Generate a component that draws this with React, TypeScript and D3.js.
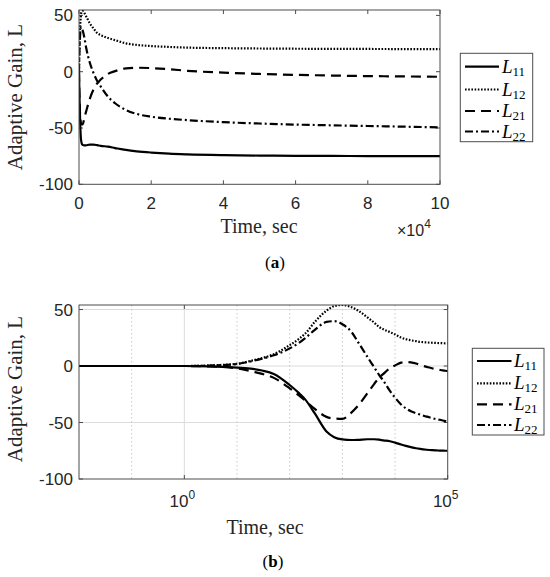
import React from "react";
import * as d3 from "d3";

const times = [0.01, 0.1, 1, 3, 10, 20, 30, 50, 100, 150, 200, 300, 500, 700, 1000, 1500, 2000, 3000, 4000, 5000, 6000, 8000, 10000, 13000, 16000, 20000, 25000, 30000, 40000, 50000, 60000, 70000, 80000, 90000, 100000];
const L11 = [0, 0, 0, -0.3, -1.5, -2.6, -4, -7, -16.8, -24, -30, -42, -58, -63, -65, -65.5, -65.3, -64.8, -64.8, -65.2, -65.8, -66.6, -67.8, -69.5, -70.7, -71.8, -72.8, -73.4, -74.1, -74.5, -74.7, -74.8, -74.9, -75, -75];
const L12 = [0, 0, 0, 0.5, 2, 5, 7, 10.5, 18.5, 24, 29, 39, 49, 53, 54, 52, 49, 43, 38.5, 34.5, 32.5, 30, 28, 25.2, 23.8, 22.8, 22, 21.4, 20.9, 20.6, 20.4, 20.3, 20.2, 20.1, 20];
const L21 = [0, 0, 0, -0.4, -2, -5, -7, -10.5, -19.7, -26, -31, -38, -45, -46.5, -46.8, -41, -35, -24, -16, -10.5, -7, -2, 0.5, 3, 3.5, 3.2, 2.2, 0.8, -0.8, -2, -2.8, -3.4, -3.9, -4.2, -4.5];
const L22 = [0, 0, 0, 0.4, 1.8, 4.5, 6.5, 9.5, 15.6, 20.5, 25, 32, 39, 39.7, 37, 30, 21, 8, -1, -8, -13, -22, -28, -34, -37.5, -40, -41.8, -43, -44.8, -46, -47, -47.6, -48.2, -48.8, -49.4];

const seriesNames = ["11", "12", "21", "22"];
const seriesData = [L11, L12, L21, L22];
const dashes = ["none", "1.6 1.6", "10 6", "8 3 2 3"];

const yTicks = [-100, -50, 0, 50];
const xTicksLin = [0, 2, 4, 6, 8, 10];
const xTicksLog = [1, 100000];
const logDecades = [0.1, 1, 10, 100, 1000, 10000];

const SANS = "Liberation Sans, Arial, sans-serif";
const SERIF = "Liberation Serif, Times New Roman, serif";
const FRAME = "#4d4d4d";
const TXT = "#262626";

function Legend({ x, y, w, h, lineX0, lineX1, textX, rowY }: any) {
  return (
    <g>
      <rect x={x} y={y} width={w} height={h} fill="white" stroke={FRAME} strokeWidth={1} />
      {seriesNames.map((n, i) => (
        <g key={n}>
          <line x1={lineX0} x2={lineX1} y1={rowY[i]} y2={rowY[i]} stroke="black" strokeWidth={2.2} strokeDasharray={dashes[i]} />
          <text x={textX} y={rowY[i] + 6} fontFamily={SERIF} fontSize={19} fill="black">
            <tspan fontStyle="italic">L</tspan>
            <tspan fontSize={13} dy={3}>{n}</tspan>
          </text>
        </g>
      ))}
    </g>
  );
}

export default function App() {
  // top panel
  const tx = d3.scaleLinear().domain([0, 100000]).range([79, 440]);
  const ty = d3.scaleLinear().domain([-100, 54.8]).range([184.3, 10]);
  // bottom panel
  const bx = d3.scaleLog().domain([0.01, 100000]).range([79, 447.7]);
  const by = d3.scaleLinear().domain([-100, 54]).range([479, 305]);

  const topLine = (vals: number[]) =>
    d3.line<number>().x((_, i) => tx(times[i])).y((v) => ty(v)).curve(d3.curveMonotoneX)(vals) as string;
  const botLine = (vals: number[]) =>
    d3.line<number>().x((_, i) => bx(times[i])).y((v) => by(v)).curve(d3.curveMonotoneX)(vals) as string;

  const tl = 4;
  return (
    <svg width={550} height={577} style={{ position: "absolute", left: 0, top: 0, background: "white" }}>
      <rect x={0} y={0} width={550} height={577} fill="white" />
      <defs>
        <clipPath id="clipTop">
          <rect x={79} y={10} width={361} height={174.3} />
        </clipPath>
        <clipPath id="clipBot">
          <rect x={79} y={305} width={368.7} height={174} />
        </clipPath>
      </defs>
      {/* ---------- TOP PANEL ---------- */}
      <g>
        {xTicksLin.map((t) => (
          <g key={"tx" + t}>
            <line x1={tx(t * 10000)} x2={tx(t * 10000)} y1={184.3} y2={184.3 - tl} stroke={FRAME} />
            <line x1={tx(t * 10000)} x2={tx(t * 10000)} y1={10} y2={10 + tl} stroke={FRAME} />
            <text x={tx(t * 10000)} y={209} textAnchor="middle" fontFamily={SANS} fontSize={17} fill={TXT}>{t}</text>
          </g>
        ))}
        {yTicks.map((v) => (
          <g key={"ty" + v}>
            <line x1={79} x2={79 + tl} y1={ty(v)} y2={ty(v)} stroke={FRAME} />
            <line x1={440} x2={440 - tl} y1={ty(v)} y2={ty(v)} stroke={FRAME} />
            <text x={73} y={ty(v) + 6} textAnchor="end" fontFamily={SANS} fontSize={17} fill={TXT}>{v}</text>
          </g>
        ))}
        <g clipPath="url(#clipTop)">
          {seriesData.map((vals, i) => (
            <path key={i} d={topLine(vals)} fill="none" stroke="black" strokeWidth={2.2} strokeDasharray={dashes[i]} />
          ))}
        </g>
        <rect x={79} y={10} width={361} height={174.3} fill="none" stroke={FRAME} strokeWidth={1} />
        <text x={259} y={233} textAnchor="middle" fontFamily={SERIF} fontSize={20} fill={TXT}>Time, sec</text>
        <text x={397} y={236} fontFamily={SANS} fontSize={16} fill={TXT}>
          ×10<tspan fontSize={12} dy={-8}>4</tspan>
        </text>
        <text x={22} y={97} transform="rotate(-90 22 97)" textAnchor="middle" fontFamily={SERIF} fontSize={21} fill={TXT}>Adaptive Gain, L</text>
        <text x={275} y={268} textAnchor="middle" fontFamily={SERIF} fontSize={17} fill="black">
          (<tspan fontWeight="bold">a</tspan>)
        </text>
        <Legend x={460.3} y={53.3} w={72.4} h={88.4} lineX0={465} lineX1={499} textX={502} rowY={[66.7, 89.5, 111, 131.5]} />
      </g>

      {/* ---------- BOTTOM PANEL ---------- */}
      <g>
        {yTicks.slice(1).map((v) => (
          <line key={"hg" + v} x1={79} x2={447.7} y1={by(v)} y2={by(v)} stroke="#dcdcdc" strokeWidth={1} />
        ))}
        {logDecades.map((t) => (
          <line key={"vg" + t} x1={bx(t)} x2={bx(t)} y1={305} y2={479}
            stroke={t === 1 ? "#dcdcdc" : "#c8c8c8"} strokeWidth={1} strokeDasharray={t === 1 ? "none" : "1.5 2.5"} />
        ))}
        {xTicksLog.map((t) => (
          <g key={"bx" + t}>
            <line x1={bx(t)} x2={bx(t)} y1={479} y2={479 - tl} stroke={FRAME} />
            <line x1={bx(t)} x2={bx(t)} y1={305} y2={305 + tl} stroke={FRAME} />
            <text x={bx(t) - 2} y={507} textAnchor="middle" fontFamily={SANS} fontSize={17} fill={TXT}>
              10<tspan fontSize={12} dy={-8}>{Math.round(Math.log10(t))}</tspan>
            </text>
          </g>
        ))}
        {yTicks.map((v) => (
          <g key={"by" + v}>
            <line x1={79} x2={79 + tl} y1={by(v)} y2={by(v)} stroke={FRAME} />
            <line x1={447.7} x2={447.7 - tl} y1={by(v)} y2={by(v)} stroke={FRAME} />
            <text x={73} y={by(v) + 6} textAnchor="end" fontFamily={SANS} fontSize={17} fill={TXT}>{v}</text>
          </g>
        ))}
        <g clipPath="url(#clipBot)">
          {seriesData.map((vals, i) => (
            <path key={i} d={botLine(vals)} fill="none" stroke="black" strokeWidth={2.2} strokeDasharray={dashes[i]} />
          ))}
        </g>
        <rect x={79} y={305} width={368.7} height={174} fill="none" stroke={FRAME} strokeWidth={1} />
        <text x={265} y={534} textAnchor="middle" fontFamily={SERIF} fontSize={20} fill={TXT}>Time, sec</text>
        <text x={22} y={389} transform="rotate(-90 22 389)" textAnchor="middle" fontFamily={SERIF} fontSize={21} fill={TXT}>Adaptive Gain, L</text>
        <text x={273} y={567} textAnchor="middle" fontFamily={SERIF} fontSize={17} fill="black">
          (<tspan fontWeight="bold">b</tspan>)
        </text>
        <Legend x={472.3} y={348.3} w={71.7} h={86.7} lineX0={477} lineX1={511.5} textX={514} rowY={[361, 383.3, 404.3, 425]} />
      </g>
    </svg>
  );
}
